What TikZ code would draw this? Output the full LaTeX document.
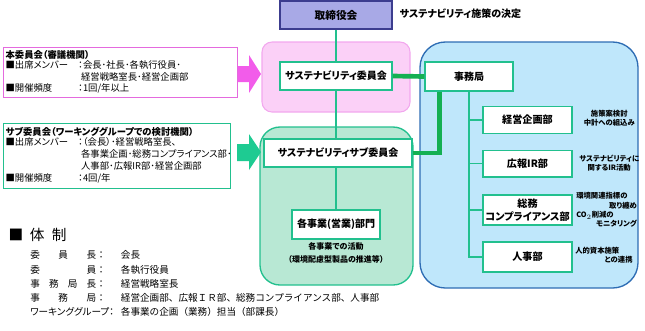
\documentclass[tikz,border=0pt]{standalone}
\usepackage{fontspec}
\setmainfont{Noto Sans CJK JP}[RawFeature=+palt]
\newfontfamily\jpfix{Noto Sans CJK JP}
\usepackage{xcolor}
\usetikzlibrary{positioning,calc}

\definecolor{boardfill}{HTML}{A8A9E6}
\definecolor{boardline}{HTML}{3C3D8F}
\definecolor{pinkfill}{HTML}{FBD0F7}
\definecolor{pinkline}{HTML}{F2A8EE}
\definecolor{pinkarrow}{HTML}{F25CEA}
\definecolor{pinkbord}{HTML}{E46ADE}
\definecolor{greenfill}{HTML}{B8E8D4}
\definecolor{greenline}{HTML}{22C08E}
\definecolor{greenarrow}{HTML}{1ECB92}
\definecolor{linkgreen}{HTML}{14B052}
\definecolor{bluefill}{HTML}{BFE7FB}
\definecolor{blueline}{HTML}{2E6DB4}

\newcommand{\spreadlab}[1]{\makebox[49.5pt]{#1}}
\newcommand{\labcol}[1]{\makebox[68pt][l]{#1}}

\begin{document}
\begin{tikzpicture}[x=0.75pt,y=-0.75pt,
  every node/.style={inner sep=1pt},
  boardbox/.style={draw=boardline,fill=boardfill,line width=0.9pt,
    minimum width=84pt,minimum height=21pt,font=\bfseries\fontsize{8}{9}\selectfont},
  orgbox/.style={draw=greenline,fill=white,line width=1pt,minimum height=21pt,
    font=\bfseries\fontsize{7.5}{9}\selectfont},
  deptbox/.style={orgbox,minimum width=66.75pt,align=center,
    font=\bfseries\fontsize{7.6}{9.5}\selectfont},
  deptnote/.style={font=\bfseries\fontsize{5.5}{7}\selectfont,text width=45pt,
    inner sep=0pt,anchor=west},
  infobox/.style={fill=white,line width=0.9pt,align=left,inner sep=1.5pt,
    anchor=north west},
  thinlink/.style={draw=greenline,line width=1pt},
  thicklink/.style={draw=linkgreen,line width=3.5pt}]
\useasboundingbox (0,0) rectangle (645,330);

% areas
\draw[draw=pinkline,fill=pinkfill,rounded corners=7.5pt,line width=0.8pt]
  (262,42) rectangle (410,112);
\draw[draw=greenline,fill=greenfill,rounded corners=15pt,line width=1pt]
  (260,127) rectangle (413,285);
\draw[draw=blueline,fill=bluefill,rounded corners=19pt,line width=1pt]
  (420,42) rectangle (638,288);

% boards and committees
\node[boardbox] (board) at (336,15) {取締役会};
\node[anchor=west,font=\bfseries\fontsize{7.5}{9}\selectfont] (decide) at (398,14)
  {サステナビリティ施策の決定};
\node[orgbox,minimum width=84pt] (comm) at (336,76) {サステナビリティ委員会};
\node[orgbox,minimum width=111pt] (subcomm) at (338,153) {サステナビリティサブ委員会};
\node[orgbox,minimum width=66pt,minimum height=21.75pt] (biz) at (336,224.5)
  {各事業(営業)部門};
\node[font=\bfseries\fontsize{6}{9.5}\selectfont,align=center,below=1pt of biz]
  (bizact) {各事業での活動\\（環境配慮型製品の推進等）};

% secretariat and departments
\node[orgbox,minimum width=66pt,minimum height=21.75pt,
  font=\bfseries\fontsize{7.5}{9}\selectfont] (office) at (469,76.5) {事務局};
\node[deptbox,minimum height=20pt] (plan) at (527.5,120) {経営企画部};
\node[deptbox,minimum height=20pt] (pr) at (527.5,163.5) {広報IR部};
\node[deptbox,minimum height=22.5pt] (ga) at (527.5,210) {総務\\コンプライアンス部};
\node[deptbox,minimum height=22.5pt] (hr) at (527.5,257) {人事部};

\node[deptnote,align=center] (plannote) at (579,118.5) {施策案検討\\中計への組込み};
\node[deptnote,align=center] (prnote) at (579,163.5) {サステナビリティに\\関するIR活動};
\node[deptnote,align=left,text width=45.5pt] (ganote) at (576,210)
  {環境関連指標の\\\hspace*{\fill}取り纏め\\CO$_2$削減の\\\hspace*{\fill}モニタリング};
\node[deptnote,align=left,text width=43pt] (hrnote) at (575,255)
  {人的資本施策\\\hspace*{\fill}との連携};

% connectors
\draw[thinlink] (board.south) -- (comm.north);
\draw[thinlink] (comm.south) -- (comm.south |- subcomm.north);
\draw[thinlink] (comm.south |- subcomm.south) -- (biz.north);
\draw[thicklink] (comm.east) -- (office.west);
\draw[thicklink] ([xshift=-22pt]office.south) |- (subcomm.east);
\draw[thinlink] (office.south) |- (hr.west);
\draw[thinlink] (office.south |- plan.west) -- (plan.west);
\draw[thinlink] (office.south |- pr.west) -- (pr.west);
\draw[thinlink] (office.south |- ga.west) -- (ga.west);

% left info boxes
\node[infobox,draw=pinkbord,text width=172.5pt,minimum height=37.5pt,
  font=\fontsize{7}{8.6}\selectfont] (mainc) at (3,47) {%
  \textbf{本委員会（審議機関）}\\
  \begin{tabular}{@{}l@{}l@{}}
  ■出席メンバー\hspace{1.1em} & ：会長･社長･各執行役員･\\
   & \hspace{0.3em}経営戦略室長･経営企画部\\
  ■開催頻度 & ：1回/年以上
  \end{tabular}};
\node[infobox,draw=greenline,text width=167.25pt,minimum height=48.75pt,
  font=\fontsize{7}{9}\selectfont] (subc) at (3,123) {%
  \textbf{サブ委員会（ワーキンググループでの検討機関）}\\
  \begin{tabular}{@{}l@{}l@{}}
  ■出席メンバー\hspace{1.1em} & ：（会長）･経営戦略室長、\\
   & \hspace{0.3em}各事業企画･総務コンプライアンス部･\\
   & \hspace{0.3em}人事部･広報IR部･経営企画部\\
  ■開催頻度 & ：4回/年
  \end{tabular}};
\fill[pinkarrow] (238,66) -- (249,66) -- (249,55) -- (261,74) -- (249,93)
  -- (249,82) -- (238,82) -- cycle;
\fill[greenarrow] (237,144) -- (249,144) -- (249,134) -- (261,152) -- (249,170)
  -- (249,161) -- (237,161) -- cycle;

% structure list
\node[anchor=west,font=\jpfix\fontsize{11}{12}\selectfont] (title) at (7,235)
  {■\hspace{0.45em}体\hspace{0.5em}制};
\node[anchor=west,inner sep=0pt,font=\jpfix\fontsize{7.2}{10.7}\selectfont]
  (members) at (30,284.5) {%
  \begin{tabular}{@{}l@{}l@{}}
  \labcol{\spreadlab{委\hfill 員\hfill 長}：} & 会長\\
  \labcol{\spreadlab{委\hfill 員}：} & 各執行役員\\
  \labcol{\spreadlab{事\hfill 務\hfill 局\hfill 長}：} & 経営戦略室長\\
  \labcol{\spreadlab{事\hfill 務\hfill 局}：} & 経営企画部、広報ＩＲ部、総務コンプライアンス部、人事部\\
  \labcol{{\addfontfeature{RawFeature=+palt}ワーキンググループ：}} & 各事業の企画（業務）担当（部課長）
  \end{tabular}};
\end{tikzpicture}
\end{document}
